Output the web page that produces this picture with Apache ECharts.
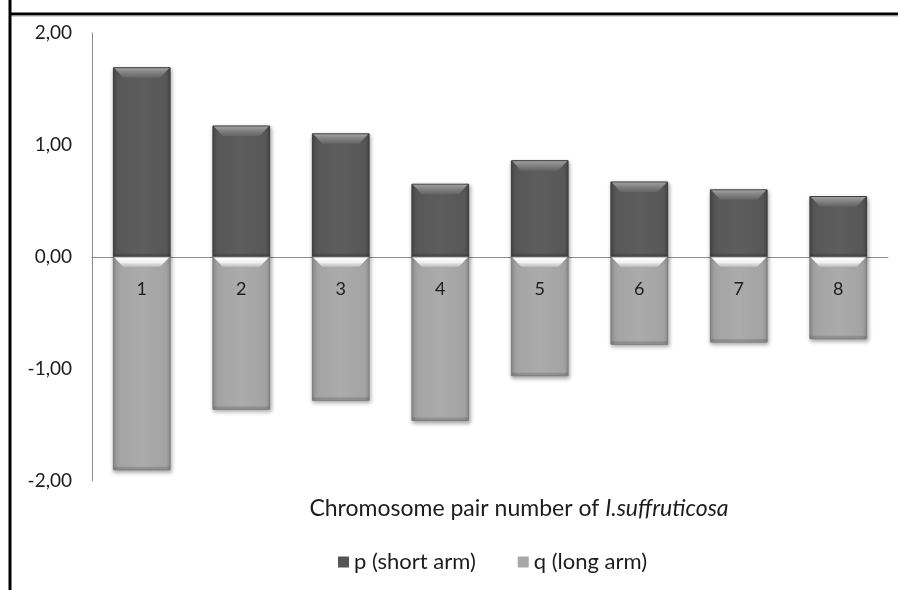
<!DOCTYPE html>
<html>
<head>
<meta charset="utf-8">
<script src="https://cdn.jsdelivr.net/npm/echarts@6/dist/echarts.min.js"></script>
<style>
html,body{margin:0;padding:0;background:#fff;}
#chart{width:898px;height:590px;}
</style>
</head>
<body>
<div id="chart"></div>
<script>
var categories = ['1','2','3','4','5','6','7','8'];
var pShortArm = [1.69, 1.17, 1.10, 0.65, 0.86, 0.67, 0.60, 0.54];
var qLongArm = [-1.90, -1.36, -1.28, -1.46, -1.06, -0.78, -0.76, -0.73];
var yTicks = [-2, -1, 0, 1, 2];
var seriesNames = ['p (short arm)', 'q (long arm)'];

var FONT = 'Lato, "Open Sans", sans-serif';
var TXT = '#1c1c1c';
var chart = echarts.init(document.getElementById('chart'));

function lg(x0, y0, x1, y1, stops) {
  return new echarts.graphic.LinearGradient(x0, y0, x1, y1, stops.map(function (s) { return {offset: s[0], color: s[1]}; }));
}

var styles = {
  p: {
    body: lg(0, 0, 1, 0, [[0, '#474747'], [0.07, '#575757'], [0.5, '#5d5d5d'], [0.93, '#575757'], [1, '#474747']]),
    bevel: lg(0, 0, 0, 1, [[0, '#a0a0a0'], [0.35, '#888888'], [1, '#646464']]),
    stroke: '#3c3c3c'
  },
  q: {
    body: lg(0, 0, 1, 0, [[0, '#8f8f8f'], [0.07, '#a3a3a3'], [0.5, '#ababab'], [0.93, '#a3a3a3'], [1, '#8f8f8f']]),
    bevel: lg(0, 0, 0, 1, [[0, '#ffffff'], [0.5, '#f2f2f2'], [1, '#b8b8b8']]),
    stroke: '#7e7e7e'
  }
};

function makeRender(kind, withLabel) {
  var st = styles[kind];
  return function (params, api) {
    var idx = api.value(0), v = api.value(1);
    var base = api.coord([idx, 0]);
    var end = api.coord([idx, v]);
    var bw = api.size([1, 0])[0] * 0.57;
    var x = base[0] - bw / 2;
    var y = Math.min(base[1], end[1]);
    var h = Math.abs(base[1] - end[1]);
    var b = Math.min(10, h / 2);
    var children = [
      {type: 'rect', shape: {x: x, y: y, width: bw, height: h},
       style: {fill: st.body, stroke: st.stroke, lineWidth: 1, shadowBlur: 4, shadowColor: 'rgba(0,0,0,0.35)', shadowOffsetY: 2, shadowOffsetX: 1}},
      {type: 'polygon', shape: {points: [[x + 1, y + 0.5], [x + bw - 1, y + 0.5], [x + bw - b, y + b], [x + b, y + b]]},
       style: {fill: st.bevel}},
      {type: 'rect', shape: {x: x + 0.5, y: y + h - 3, width: bw - 1, height: 2.5},
       style: {fill: 'rgba(0,0,0,0.12)'}}
    ];
    if (withLabel) {
      children.push({type: 'text', style: {
        text: categories[idx], x: base[0], y: base[1] + 32, align: 'center', verticalAlign: 'middle',
        fontFamily: FONT, fontSize: 18, fill: TXT
      }});
    }
    return {type: 'group', children: children};
  };
}

function pairs(arr) { return arr.map(function (v, i) { return [i, v]; }); }

chart.setOption({
  animation: false,
  backgroundColor: '#fff',
  graphic: [
    {type: 'line', shape: {x1: 10, y1: 0, x2: 10, y2: 590}, style: {stroke: '#000', lineWidth: 3}},
    {type: 'line', shape: {x1: 9, y1: 14, x2: 898, y2: 14}, style: {stroke: '#000', lineWidth: 3}},
    {type: 'line', shape: {x1: 12, y1: 16, x2: 898, y2: 16}, style: {stroke: '#aaa', lineWidth: 1}}
  ],
  title: {
    text: '{n|Chromosome pair number of }{i|I.suffruticosa}',
    left: 514, top: 492, textAlign: 'center',
    textStyle: {
      fontWeight: 'normal',
      rich: {
        n: {fontFamily: FONT, fontSize: 23, fontWeight: 'normal', color: TXT},
        i: {fontFamily: FONT, fontSize: 23, fontWeight: 'normal', fontStyle: 'italic', color: TXT}
      }
    }
  },
  legend: {
    data: seriesNames,
    left: 333, top: 546,
    itemWidth: 11, itemHeight: 11, itemGap: 42,
    icon: 'rect',
    textStyle: {fontFamily: FONT, fontSize: 22, color: TXT}
  },
  grid: {left: 92, right: 10, top: 33, bottom: 109},
  xAxis: {
    type: 'category',
    data: categories,
    axisLine: {onZero: true, lineStyle: {color: '#8c8c8c', width: 1}},
    axisTick: {show: false},
    axisLabel: {show: false}
  },
  yAxis: {
    type: 'value',
    min: yTicks[0], max: yTicks[yTicks.length - 1], interval: 1,
    axisLine: {show: true, lineStyle: {color: '#8c8c8c'}},
    axisTick: {show: false},
    splitLine: {show: false},
    axisLabel: {
      margin: 20, fontFamily: FONT, fontSize: 19, color: TXT,
      formatter: function (v) { return v.toFixed(2).replace('.', ','); }
    }
  },
  series: [
    {
      name: seriesNames[0], type: 'custom', data: pairs(pShortArm),
      encode: {x: 0, y: 1},
      itemStyle: {color: '#555555'},
      renderItem: makeRender('p', false)
    },
    {
      name: seriesNames[1], type: 'custom', data: pairs(qLongArm),
      encode: {x: 0, y: 1},
      itemStyle: {color: '#a8a8a8'},
      renderItem: makeRender('q', true)
    }
  ]
});
</script>
</body>
</html>
